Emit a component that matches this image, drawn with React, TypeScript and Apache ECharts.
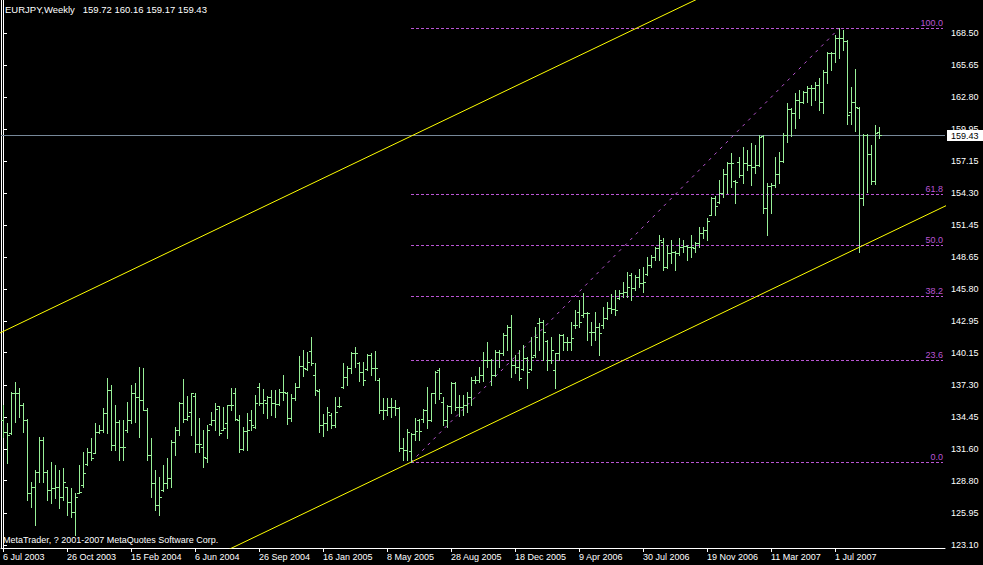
import React, { useEffect, useRef } from "react";
import * as echarts from "echarts";

const symbol = "EURJPY";
const timeframe = "Weekly";
const copyright = "MetaTrader, ? 2001-2007 MetaQuotes Software Corp.";

// weekly OHLC bars, first bar = week of 6 Jul 2003
const opens = [
  134.19, 133.15, 133.0, 136.55, 136.55, 135.52, 134.19, 127.68, 128.27, 129.6,
  132.41, 129.6, 127.98, 128.13, 128.27, 127.39, 128.2, 126.9, 126.06, 127.7,
  128.4, 130.3, 131.38, 131.3, 133.15, 133.3, 134.78, 136.85, 131.97, 134.04,
  131.82, 133.3, 134.19, 136.55, 136.25, 135.96, 135.07, 131.08, 128.57, 126.65,
  128.0, 128.57, 129.0, 132.2, 133.3, 135.7, 134.3, 134.9, 136.3, 132.03,
  131.8, 130.8, 133.8, 134.2, 135.4, 133.3, 133.9, 135.5, 136.55, 134.2,
  131.6, 133.2, 134.2, 133.6, 137.1, 135.7, 135.73, 136.26, 135.67, 135.61,
  136.7, 136.55, 134.34, 136.11, 137.15, 138.98, 138.68, 140.34, 138.18, 136.79,
  133.75, 133.9, 134.6, 133.75, 135.4, 137.1, 138.0, 138.77, 140.1, 139.27,
  138.4, 138.7, 139.95, 138.77, 137.74, 135.08, 135.08, 135.31, 135.31, 135.22,
  131.68, 131.5, 131.4, 132.9, 134.2, 134.3, 135.08, 134.19, 136.55, 138.62,
  135.81, 134.19, 135.43, 137.44, 135.37, 135.37, 135.52, 136.26, 137.74, 137.74,
  138.18, 139.51, 139.51, 138.2, 140.25, 140.16, 141.73, 142.46, 139.07, 138.92,
  138.7, 139.66, 138.7, 139.95, 142.76, 142.9, 141.2, 139.51, 138.62, 140.1,
  141.73, 141.13, 141.13, 142.6, 143.8, 143.5, 143.65, 142.0, 142.02, 142.46,
  142.61, 143.2, 144.09, 144.0, 145.0, 145.42, 145.57, 147.05, 145.86, 146.9,
  146.31, 147.1, 147.9, 148.67, 149.41, 150.0, 147.78, 148.97, 149.11, 148.97,
  149.56, 149.62, 149.56, 149.41, 149.91, 150.74, 151.03, 152.4, 153.84, 153.5,
  154.35, 156.0, 156.95, 155.4, 157.1, 155.91, 156.95, 156.8, 156.65, 156.8,
  159.36, 152.95, 154.93, 155.02, 156.0, 157.18, 159.45, 161.73, 161.37, 162.56,
  162.41, 163.3, 163.59, 163.59, 163.89, 162.41, 165.0, 166.7, 166.7, 168.02,
  168.03, 167.79, 161.5, 162.35, 161.88, 153.84, 159.45, 157.74, 155.38, 159.72,
];
const highs = [
  135.52, 133.89, 136.7, 137.59, 136.99, 135.66, 134.3, 128.72, 129.75, 132.71,
  132.71, 129.75, 130.49, 130.2, 129.75, 129.9, 128.27, 128.13, 127.68, 130.2,
  131.38, 131.67, 132.56, 133.89, 133.74, 135.22, 137.88, 137.29, 135.52, 134.19,
  134.19, 135.81, 137.29, 137.44, 138.9, 138.77, 135.22, 132.56, 129.75, 129.16,
  130.2, 130.79, 132.41, 133.6, 135.81, 137.8, 136.32, 136.61, 136.55, 134.34,
  133.3, 133.75, 134.93, 135.67, 135.43, 135.37, 135.52, 137.0, 137.0, 134.63,
  133.6, 134.78, 135.08, 136.41, 137.5, 136.91, 136.32, 136.85, 136.85, 136.91,
  138.18, 136.7, 136.5, 137.5, 139.86, 140.4, 140.25, 141.58, 139.21, 136.91,
  134.72, 135.37, 134.78, 136.26, 136.26, 139.27, 138.98, 140.25, 140.69, 139.3,
  139.36, 140.04, 140.1, 140.34, 137.88, 136.11, 136.11, 136.11, 135.96, 135.31,
  132.56, 133.36, 133.0, 134.34, 134.25, 135.14, 137.15, 136.61, 138.5, 138.77,
  136.26, 135.52, 137.59, 137.59, 136.41, 136.41, 136.7, 138.03, 138.09, 138.92,
  140.25, 141.14, 139.6, 140.4, 140.4, 141.87, 142.61, 143.5, 139.95, 140.4,
  140.84, 139.8, 141.58, 142.4, 143.2, 143.06, 141.28, 141.58, 140.1, 141.81,
  141.81, 141.58, 142.91, 143.94, 144.83, 145.48, 143.8, 142.91, 143.8, 142.76,
  144.24, 144.68, 145.36, 145.72, 145.72, 146.46, 147.34, 147.19, 147.05, 147.6,
  147.78, 148.67, 148.82, 149.56, 150.59, 150.3, 149.71, 150.15, 149.2, 150.3,
  150.15, 149.71, 150.59, 150.0, 151.33, 151.33, 152.07, 153.99, 154.05, 155.47,
  156.42, 157.09, 157.89, 155.47, 157.54, 158.43, 158.13, 158.72, 158.57, 159.46,
  159.46, 155.16, 155.17, 157.53, 157.97, 159.6, 162.32, 161.82, 163.15, 163.44,
  163.35, 163.8, 163.89, 164.18, 164.48, 165.22, 166.84, 166.84, 168.32, 168.9,
  168.8, 167.85, 163.74, 165.3, 161.9, 159.51, 159.51, 158.57, 160.34, 160.16,
];
const lows = [
  132.71, 130.4, 132.95, 134.04, 134.48, 133.15, 127.09, 126.5, 124.87, 128.72,
  128.72, 127.09, 126.8, 127.24, 126.35, 127.09, 125.76, 125.61, 123.99, 127.68,
  128.27, 130.2, 130.64, 131.23, 133.0, 133.15, 133.0, 131.53, 131.53, 130.64,
  130.64, 133.15, 133.89, 134.04, 132.71, 135.07, 130.64, 127.39, 126.2, 125.76,
  127.9, 128.13, 128.28, 131.08, 132.86, 134.04, 134.19, 132.86, 131.38, 131.38,
  129.99, 130.49, 133.75, 133.3, 132.86, 133.3, 132.56, 135.08, 134.19, 131.38,
  131.53, 131.53, 133.3, 133.5, 135.52, 134.84, 134.34, 134.63, 134.48, 135.52,
  135.96, 133.83, 134.13, 135.96, 137.1, 138.09, 138.62, 139.07, 136.41, 133.15,
  132.77, 133.3, 133.45, 133.54, 135.37, 137.0, 137.29, 138.33, 138.92, 137.68,
  137.29, 138.62, 138.18, 137.74, 134.78, 134.25, 134.63, 134.42, 134.63, 131.47,
  130.64, 130.64, 130.45, 132.41, 132.41, 134.04, 133.45, 134.1, 135.73, 136.02,
  133.75, 133.6, 134.78, 135.08, 134.54, 134.63, 134.93, 135.52, 137.44, 137.59,
  137.6, 138.9, 137.29, 138.1, 138.92, 139.95, 140.4, 138.03, 138.33, 137.74,
  138.62, 137.0, 138.62, 139.8, 140.4, 139.51, 138.62, 139.21, 137.0, 139.51,
  140.4, 140.4, 140.4, 142.32, 142.46, 143.35, 141.28, 140.84, 141.28, 139.95,
  142.32, 143.1, 143.65, 143.5, 144.9, 145.13, 145.13, 144.83, 145.7, 146.01,
  145.57, 147.04, 147.78, 148.37, 148.37, 147.49, 147.63, 148.08, 147.49, 148.82,
  149.11, 148.37, 148.67, 149.11, 149.56, 150.3, 150.15, 152.37, 152.37, 153.4,
  153.99, 154.29, 154.88, 153.46, 155.76, 155.17, 156.36, 155.03, 156.06, 156.7,
  152.5, 150.58, 152.5, 154.87, 155.17, 157.1, 158.86, 159.36, 160.04, 160.93,
  162.3, 162.41, 162.11, 162.56, 161.67, 161.37, 164.03, 165.22, 165.96, 166.31,
  166.99, 160.4, 160.4, 159.81, 149.11, 153.25, 154.37, 155.08, 155.08, 159.17,
];
const closes = [
  133.15, 132.86, 136.55, 136.55, 135.52, 134.19, 127.68, 128.27, 129.6, 132.41,
  129.6, 127.98, 128.13, 128.27, 127.39, 128.72, 126.9, 126.06, 127.39, 127.83,
  129.46, 131.38, 130.79, 133.15, 133.3, 134.78, 136.85, 131.97, 134.04, 131.82,
  131.82, 134.19, 136.55, 136.25, 135.96, 135.07, 131.08, 128.57, 126.65, 127.39,
  128.57, 129.01, 132.2, 133.3, 135.7, 134.3, 134.5, 136.55, 132.03, 132.03,
  130.9, 133.3, 134.2, 135.2, 133.0, 133.5, 135.5, 135.52, 134.3, 131.6,
  133.2, 133.3, 133.75, 135.67, 135.67, 135.96, 136.26, 135.67, 135.61, 136.7,
  136.7, 134.34, 136.11, 137.15, 138.98, 138.77, 139.36, 139.21, 136.85, 133.75,
  133.9, 134.93, 133.75, 134.93, 135.43, 138.03, 138.77, 140.1, 140.1, 138.4,
  137.74, 139.95, 138.77, 138.77, 135.08, 135.08, 135.31, 135.31, 135.22, 131.68,
  131.53, 133.15, 132.9, 133.24, 133.24, 135.08, 134.19, 136.55, 138.47, 136.55,
  134.19, 135.43, 137.44, 135.37, 135.37, 135.52, 136.26, 137.74, 137.74, 138.18,
  139.51, 139.51, 138.18, 140.25, 140.16, 141.73, 142.46, 139.07, 138.92, 137.88,
  139.66, 138.47, 139.8, 141.58, 142.9, 142.02, 139.51, 140.4, 140.1, 141.73,
  141.13, 141.13, 141.43, 142.61, 142.9, 143.65, 143.65, 142.02, 142.46, 141.87,
  143.2, 144.09, 144.0, 143.94, 145.42, 145.57, 146.01, 145.86, 146.9, 146.31,
  146.46, 147.9, 148.67, 149.41, 150.15, 147.78, 148.97, 149.11, 148.97, 149.56,
  149.62, 149.56, 149.56, 149.91, 150.74, 151.03, 151.86, 153.84, 153.16, 154.35,
  156.0, 156.95, 157.01, 155.3, 155.91, 156.95, 156.8, 156.65, 156.8, 159.31,
  152.95, 154.93, 155.02, 156.0, 157.18, 159.45, 161.73, 161.37, 162.56, 162.41,
  163.3, 163.59, 163.59, 163.89, 162.41, 165.0, 166.7, 166.7, 168.02, 168.09,
  167.79, 161.23, 162.35, 161.97, 153.84, 159.45, 157.74, 155.38, 159.6, 159.43,
];

const xTickIndices = [0, 16, 32, 48, 64, 80, 96, 112, 128, 144, 160, 176, 192, 208];
const xTickLabels = [
  "6 Jul 2003", "26 Oct 2003", "15 Feb 2004", "6 Jun 2004", "26 Sep 2004",
  "16 Jan 2005", "8 May 2005", "28 Aug 2005", "18 Dec 2005", "9 Apr 2006",
  "30 Jul 2006", "19 Nov 2006", "11 Mar 2007", "1 Jul 2007",
];
const yTickValues = [
  123.1, 125.95, 128.8, 131.6, 134.45, 137.3, 140.15, 142.95, 145.8,
  148.65, 151.45, 154.3, 157.15, 159.95, 162.8, 165.65, 168.5,
];
const yTickLabels = [
  "123.10", "125.95", "128.80", "131.60", "134.45", "137.30", "140.15", "142.95", "145.80",
  "148.65", "151.45", "154.30", "157.15", "159.95", "162.80", "165.65", "168.50",
];

// Fibonacci retracement: swing low bar -> swing high bar
const fibLowIndex = 102;
const fibHighIndex = 209;
const fibLow = 130.45;
const fibHigh = 168.9;
const fibLevels = [0, 23.6, 38.2, 50, 61.8, 100];

// parallel channel lines [barIndex, price]
const upperChannel = [[-1, 141.86], [180, 172.6]];
const lowerChannel = [[40, 119.91], [240, 153.91]];

const FONT = "Tahoma, 'Liberation Sans', Arial, sans-serif";
const BAR_COLOR = "#98F098";
const FIB_COLOR = "#BA55D3";

export default function App() {
  const ref = useRef<HTMLDivElement>(null);
  useEffect(() => {
    const chart = echarts.init(ref.current as HTMLDivElement, null, { renderer: "svg" });
    const last = opens.length - 1;
    const lastClose = closes[last];
    const ohlc = opens.map((o, i) => [i, o, highs[i], lows[i], closes[i]]);
    const fibData = fibLevels.map((lv) => [lv, fibLow + ((fibHigh - fibLow) * lv) / 100]);
    const title = `${symbol},${timeframe}   ${opens[last].toFixed(2)} ${highs[last].toFixed(2)} ${lows[last].toFixed(2)} ${closes[last].toFixed(2)}`;

    const option: any = {
      animation: false,
      backgroundColor: "#000000",
      grid: { left: 1, top: 0, right: 38, bottom: 17, containLabel: false },
      xAxis: {
        type: "value",
        min: -0.5,
        max: 235.5,
        axisLine: { show: true, onZero: false, lineStyle: { color: "#ffffff", width: 1 } },
        axisTick: { show: true, customValues: xTickIndices, length: 4, lineStyle: { color: "#ffffff" } },
        axisLabel: {
          customValues: xTickIndices,
          formatter: (v: number) => {
            const k = xTickIndices.indexOf(Math.round(v));
            return k >= 0 ? xTickLabels[k] : "";
          },
          color: "#ffffff",
          fontSize: 9,
          fontFamily: FONT,
          align: "left",
          margin: 4,
        },
        splitLine: { show: false },
      },
      yAxis: [
        {
          type: "value",
          position: "right",
          min: 122.835,
          max: 171.426,
          axisLine: { show: true, lineStyle: { color: "#ffffff", width: 1 } },
          axisTick: { show: true, customValues: yTickValues, length: 4, lineStyle: { color: "#ffffff" } },
          axisLabel: {
            customValues: yTickValues,
            formatter: (v: number) => {
              let best = 0;
              for (let k = 0; k < yTickValues.length; k++) {
                if (Math.abs(yTickValues[k] - v) < Math.abs(yTickValues[best] - v)) best = k;
              }
              return yTickLabels[best];
            },
            color: "#ffffff",
            fontSize: 9,
            fontFamily: FONT,
            margin: 6,
          },
          splitLine: { show: false },
        },
        {
          type: "value",
          position: "left",
          min: 122.835,
          max: 171.426,
          axisLine: { show: true, lineStyle: { color: "#ffffff", width: 1 } },
          axisTick: { show: false },
          axisLabel: { show: false },
          splitLine: { show: false },
        },
      ],
      graphic: [
        {
          type: "text",
          left: 5,
          top: 4,
          z: 100,
          style: { text: title, fill: "#ffffff", font: `9.5px ${FONT}` },
        },
        {
          type: "text",
          left: 3,
          top: 535,
          z: 100,
          style: { text: copyright, fill: "#ffffff", font: `9px ${FONT}` },
        },
      ],
      series: [
        {
          type: "custom",
          name: "price",
          z: 1,
          silent: true,
          data: [[last, lastClose]],
          renderItem: (params: any, api: any) => {
            const cs = params.coordSys;
            const p = api.coord([api.value(0), api.value(1)]);
            const y = Math.round(p[1]) + 0.5;
            const right = cs.x + cs.width;
            return {
              type: "group",
              children: [
                { type: "line", shape: { x1: cs.x, y1: y, x2: right, y2: y }, style: { stroke: "#778899", lineWidth: 1 } },
                { type: "rect", shape: { x: right + 2, y: y - 5.5, width: 36, height: 11 }, style: { fill: "#ffffff" } },
                {
                  type: "text",
                  x: right + 6,
                  y: y,
                  style: { text: lastClose.toFixed(2), fill: "#000000", font: `9px ${FONT}`, verticalAlign: "middle", align: "left" },
                },
              ],
            };
          },
        },
        {
          type: "line",
          name: "upper",
          z: 2,
          silent: true,
          symbol: "none",
          data: upperChannel,
          lineStyle: { color: "#FFFF00", width: 1 },
          clip: true,
        },
        {
          type: "line",
          name: "lower",
          z: 2,
          silent: true,
          symbol: "none",
          data: lowerChannel,
          lineStyle: { color: "#FFFF00", width: 1 },
          clip: true,
        },
        {
          type: "line",
          name: "fibDiag",
          z: 2,
          silent: true,
          symbol: "none",
          data: [[fibLowIndex, fibLow], [fibHighIndex, fibHigh]],
          lineStyle: { color: FIB_COLOR, width: 1, type: [3, 5] },
        },
        {
          type: "custom",
          name: "fib",
          z: 2,
          silent: true,
          data: fibData,
          renderItem: (params: any, api: any) => {
            const cs = params.coordSys;
            const p = api.coord([fibLowIndex, api.value(1)]);
            const y = Math.round(p[1]) + 0.5;
            const right = cs.x + cs.width - 2;
            return {
              type: "group",
              children: [
                { type: "line", shape: { x1: p[0], y1: y, x2: right, y2: y }, style: { stroke: FIB_COLOR, lineWidth: 1, lineDash: [3, 2] } },
                {
                  type: "text",
                  x: right,
                  y: y - 1,
                  style: { text: Number(api.value(0)).toFixed(1), fill: FIB_COLOR, font: `9px ${FONT}`, align: "right", verticalAlign: "bottom" },
                },
              ],
            };
          },
        },
        {
          type: "custom",
          name: "bars",
          z: 3,
          silent: true,
          data: ohlc,
          encode: { x: 0, y: [1, 2, 3, 4] },
          renderItem: (params: any, api: any) => {
            const i = api.value(0);
            const o = api.coord([i, api.value(1)]);
            const h = api.coord([i, api.value(2)]);
            const l = api.coord([i, api.value(3)]);
            const c = api.coord([i, api.value(4)]);
            const col = Math.round(o[0]);
            const x = col + 0.5;
            const st = { stroke: BAR_COLOR, lineWidth: 1 };
            const oy = Math.round(o[1]) + 0.5;
            const cy = Math.round(c[1]) + 0.5;
            return {
              type: "group",
              children: [
                { type: "line", shape: { x1: x, y1: Math.round(h[1]), x2: x, y2: Math.round(l[1]) + 1 }, style: st },
                { type: "line", shape: { x1: col - 2, y1: oy, x2: col, y2: oy }, style: st },
                { type: "line", shape: { x1: col + 1, y1: cy, x2: col + 3, y2: cy }, style: st },
              ],
            };
          },
        },
      ],
    };
    chart.setOption(option);
    return () => chart.dispose();
  }, []);
  return (
    <div
      ref={ref}
      style={{ position: "fixed", left: 0, top: 0, width: 983, height: 565, background: "#000000" }}
    />
  );
}
